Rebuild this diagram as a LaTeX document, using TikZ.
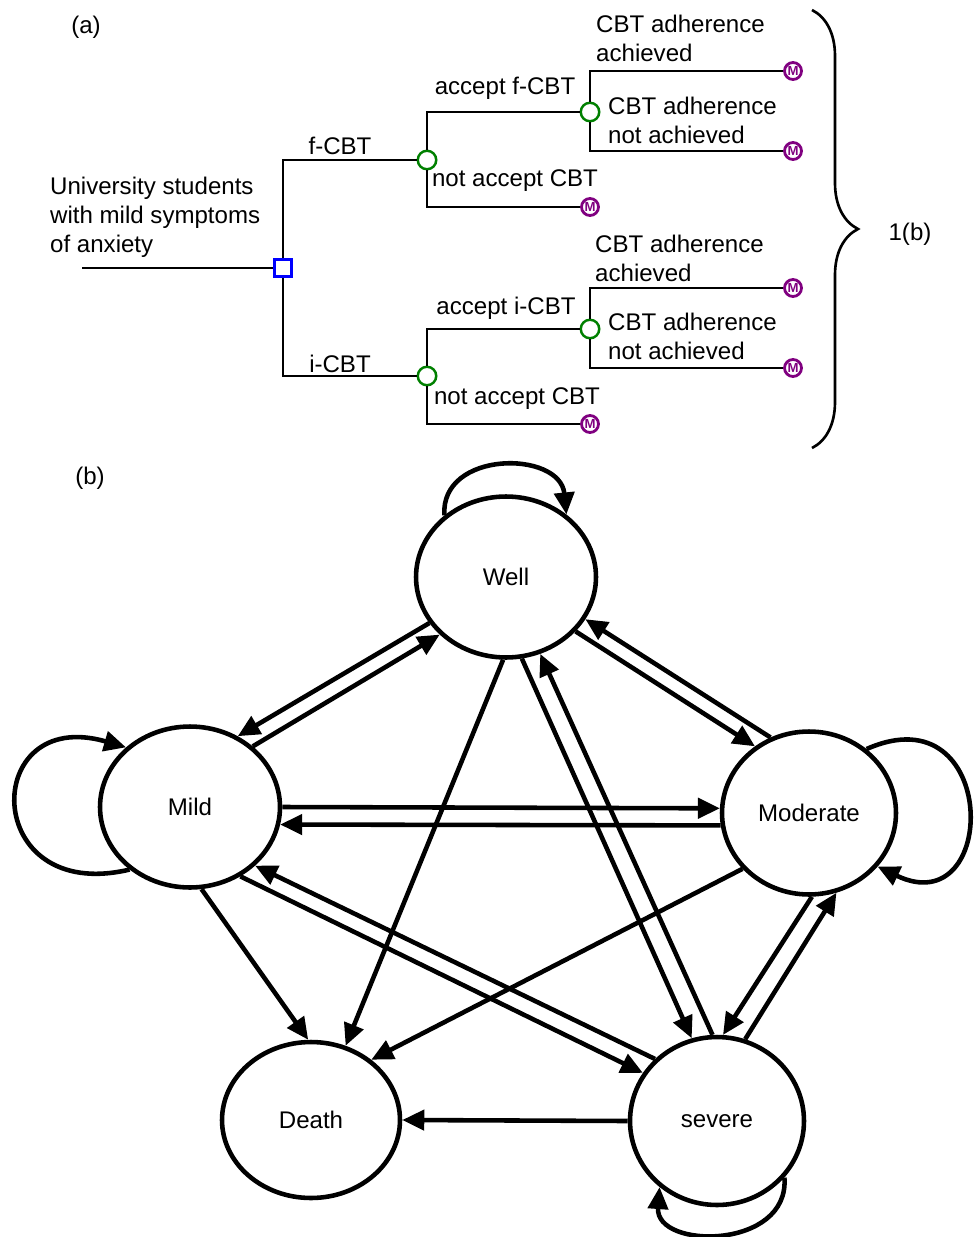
\documentclass[tikz,border=0pt]{standalone}
\usepackage{fontspec}
\setmainfont{Liberation Sans}
\usepackage{xcolor}
\usepackage{tikz}
\usetikzlibrary{shapes,arrows.meta,positioning,calc,decorations.pathreplacing}
\definecolor{treegreen}{RGB}{0,128,0}
\definecolor{treeblue}{RGB}{0,0,255}
\definecolor{treepurple}{RGB}{128,0,128}

\begin{document}
\begin{tikzpicture}[x=0.02cm, y=-0.02cm,
    font=\fontsize{13.7}{16.4}\selectfont,
    branch/.style={line width=1.5pt},
    decision/.style={rectangle, draw=treeblue, line width=1.4pt, fill=white, minimum size=0.34cm, inner sep=0pt},
    chance/.style={circle, draw=treegreen, line width=1.4pt, fill=white, minimum size=0.37cm, inner sep=0pt},
    terminal/.style={circle, draw=treepurple, line width=1.6pt, fill=white, minimum size=0.34cm, inner sep=0pt,
        text=treepurple, font=\fontsize{7.5}{7.5}\selectfont\bfseries},
    state/.style={ellipse, draw, line width=2.6pt, minimum width=3.6cm, minimum height=3.22cm},
    trans/.style={line width=2.6pt, -{Triangle[length=0.44cm, width=0.4cm]}}]
\useasboundingbox (0,0) rectangle (975,1237);

% (a) decision tree
\node at (86,27) {(a)};
\node[anchor=west, align=left] (pop) at (44,217) {University students\\with mild symptoms\\of anxiety};
\coordinate (root) at (82,268);
\node[decision] (dec) at (283,268) {};
\node[chance] (cf) at (427,160) {};
\node[chance] (ci) at (427,376) {};
\node[chance] (caf) at (590,112) {};
\node[chance] (cai) at (590,329) {};
\node[terminal] (tf1) at (793,71) {M};
\node[terminal] (tf2) at (793,151) {M};
\node[terminal] (tf3) at (590,207) {M};
\node[terminal] (ti1) at (793,288) {M};
\node[terminal] (ti2) at (793,368) {M};
\node[terminal] (ti3) at (590,424) {M};

\draw[branch] (root) -- (dec);
\draw[branch] (dec) |- (cf);
\draw[branch] (dec) |- (ci);
\draw[branch] (cf) |- (caf);
\draw[branch] (cf) |- (tf3);
\draw[branch] (ci) |- (cai);
\draw[branch] (ci) |- (ti3);
\draw[branch] (caf) |- (tf1);
\draw[branch] (caf) |- (tf2);
\draw[branch] (cai) |- (ti1);
\draw[branch] (cai) |- (ti2);

\node at (340,146) {f-CBT};
\node at (340,364) {i-CBT};
\node at (505,88) {accept f-CBT};
\node at (515,181) {not accept CBT};
\node at (506,308) {accept i-CBT};
\node at (517,399) {not accept CBT};
\node[anchor=west, align=left] at (590,38) {CBT adherence\\achieved};
\node[anchor=west, align=left] at (602,120) {CBT adherence\\not achieved};
\node[anchor=west, align=left] at (589,258) {CBT adherence\\achieved};
\node[anchor=west, align=left] at (602,336) {CBT adherence\\not achieved};

\draw[line width=1.5pt, decorate, decoration={brace, amplitude=0.92cm}] (812,10) -- (812,448);
\node (link) at (910,234) {1(b)};

% (b) Markov states
\node at (90,478) {(b)};
\node[state] (well) at (506,577) {Well};
\node[state] (mild) at (190,807) {Mild};
\node[state, minimum width=3.48cm, minimum height=3.26cm] (mod) at (809,813) {Moderate};
\node[state, minimum width=3.56cm, minimum height=3.12cm] (death) at (311,1120) {Death};
\node[state, minimum width=3.48cm, minimum height=3.36cm] (sev) at (717,1121) {severe};

\draw[trans] (well.211) -- (mild.56);
\draw[trans] (mild.44) -- (well.221);
\draw[trans] (mod.117) -- (well.332);
\draw[trans] (well.322) -- (mod.129);
\draw[trans] (mild.0) -- (mod.177);
\draw[trans] (mod.188) -- (mild.349);
\draw[trans] (well.268) -- (death.65);
\draw[trans] (well.281) -- (sev.107);
\draw[trans] (sev.93) -- (well.294);
\draw[trans] (mod.220) -- (death.45);
\draw[trans] (mod.272) -- (sev.86);
\draw[trans] (sev.71) -- (mod.289);
\draw[trans] (mild.278) -- (death.92);
\draw[trans] (sev.135) -- (mild.318);
\draw[trans] (mild.306) -- (sev.147);
\draw[trans] (sev.180) -- (death.0);

\draw[trans] (well.135) .. controls (440,450) and (560,450) .. (well.46);
\draw[trans] (mild.226) .. controls (-20,905) and (-20,705) .. (mild.137);
\draw[trans] (mod.48) .. controls (1000,690) and (1000,925) .. (mod.322);
\draw[trans] (sev.320) .. controls (790,1250) and (655,1250) .. (sev.229);
\end{tikzpicture}
\end{document}
